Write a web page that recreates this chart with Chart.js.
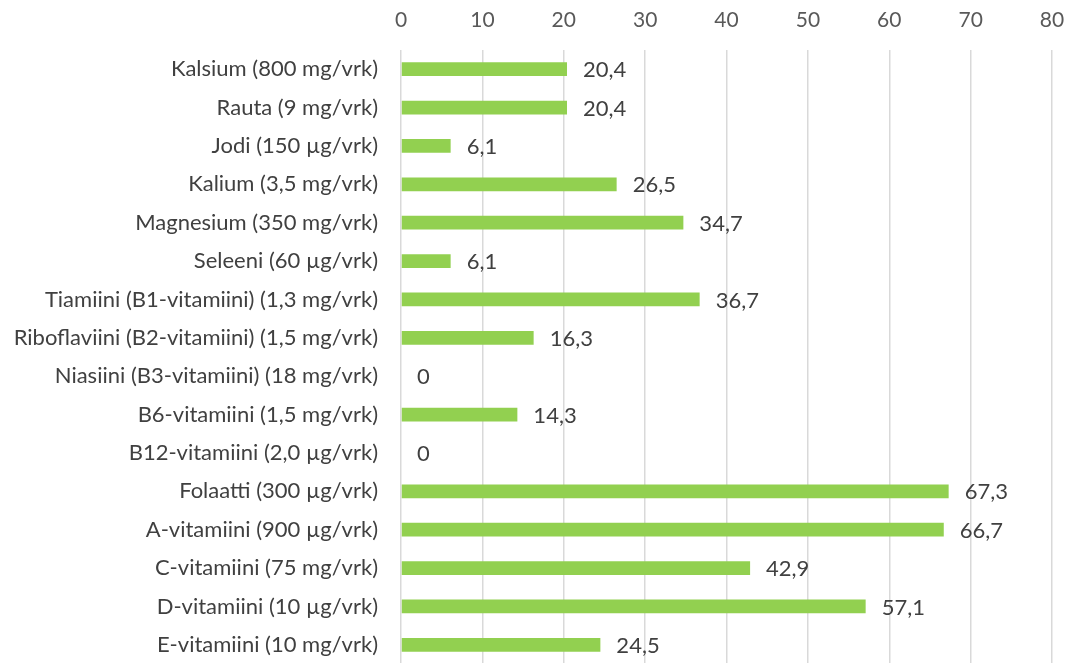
<!DOCTYPE html>
<html>
<head>
<meta charset="utf-8">
<script src="https://cdn.jsdelivr.net/npm/chart.js@4"></script>
<style>
  html, body { margin: 0; padding: 0; background: #fff; overflow: hidden; }
  #wrap { width: 1068px; height: 666px; position: relative; }
</style>
</head>
<body>
<div id="wrap"><canvas id="c"></canvas></div>
<script>
const categories = [
  "Kalsium (800 mg/vrk)",
  "Rauta (9 mg/vrk)",
  "Jodi (150 µg/vrk)",
  "Kalium (3,5 mg/vrk)",
  "Magnesium (350 mg/vrk)",
  "Seleeni (60 µg/vrk)",
  "Tiamiini (B1-vitamiini) (1,3 mg/vrk)",
  "Riboflaviini (B2-vitamiini) (1,5 mg/vrk)",
  "Niasiini (B3-vitamiini) (18 mg/vrk)",
  "B6-vitamiini (1,5 mg/vrk)",
  "B12-vitamiini (2,0 µg/vrk)",
  "Folaatti (300 µg/vrk)",
  "A-vitamiini (900 µg/vrk)",
  "C-vitamiini (75 mg/vrk)",
  "D-vitamiini (10 µg/vrk)",
  "E-vitamiini (10 mg/vrk)"
];
const values = [20.4, 20.4, 6.1, 26.5, 34.7, 6.1, 36.7, 16.3, 0, 14.3, 0, 67.3, 66.7, 42.9, 57.1, 24.5];
const tickValues = [0, 10, 20, 30, 40, 50, 60, 70, 80];

const FONT = "Lato, 'Open Sans', sans-serif";
const TEXT = "#404040";

// value labels drawn just past the end of each bar
const valueLabels = {
  id: "valueLabels",
  afterDatasetsDraw(chart) {
    const ctx = chart.ctx;
    const meta = chart.getDatasetMeta(0);
    ctx.save();
    ctx.font = "22px " + FONT;
    ctx.fillStyle = TEXT;
    ctx.textAlign = "left";
    ctx.textBaseline = "middle";
    meta.data.forEach((bar, i) => {
      const txt = values[i] === 0 ? "0" : values[i].toFixed(1).replace(".", ",");
      ctx.fillText(txt, bar.x + 16, bar.y + 1);
    });
    ctx.restore();
  }
};

new Chart(document.getElementById("c"), {
  type: "bar",
  data: {
    labels: categories,
    datasets: [{
      data: values,
      backgroundColor: "#92D050",
      borderWidth: 0,
      barPercentage: 0.72,
      categoryPercentage: 0.5
    }]
  },
  options: {
    indexAxis: "y",
    responsive: true,
    maintainAspectRatio: false,
    animation: false,
    layout: { padding: { top: 0, right: 16, bottom: 2, left: 0 } },
    plugins: { legend: { display: false }, tooltip: { enabled: false } },
    scales: {
      x: {
        position: "top",
        min: 0,
        max: 80,
        afterBuildTicks(scale) { scale.ticks = tickValues.map(v => ({ value: v })); },
        afterFit(scale) { scale.height = 50; scale.paddingLeft = 0; scale.paddingRight = 0; },
        grid: { color: "#d9d9d9", lineWidth: 1.5, drawTicks: false },
        border: { display: false },
        ticks: { color: "#595959", font: { family: FONT, size: 21 }, padding: 17 }
      },
      y: {
        afterFit(scale) { scale.width = 401; scale.paddingTop = 0; scale.paddingBottom = 0; },
        grid: { display: false, drawTicks: false },
        border: { display: false },
        ticks: { color: TEXT, font: { family: FONT, size: 22 }, padding: 23, autoSkip: false }
      }
    }
  },
  plugins: [valueLabels]
});
</script>
</body>
</html>
